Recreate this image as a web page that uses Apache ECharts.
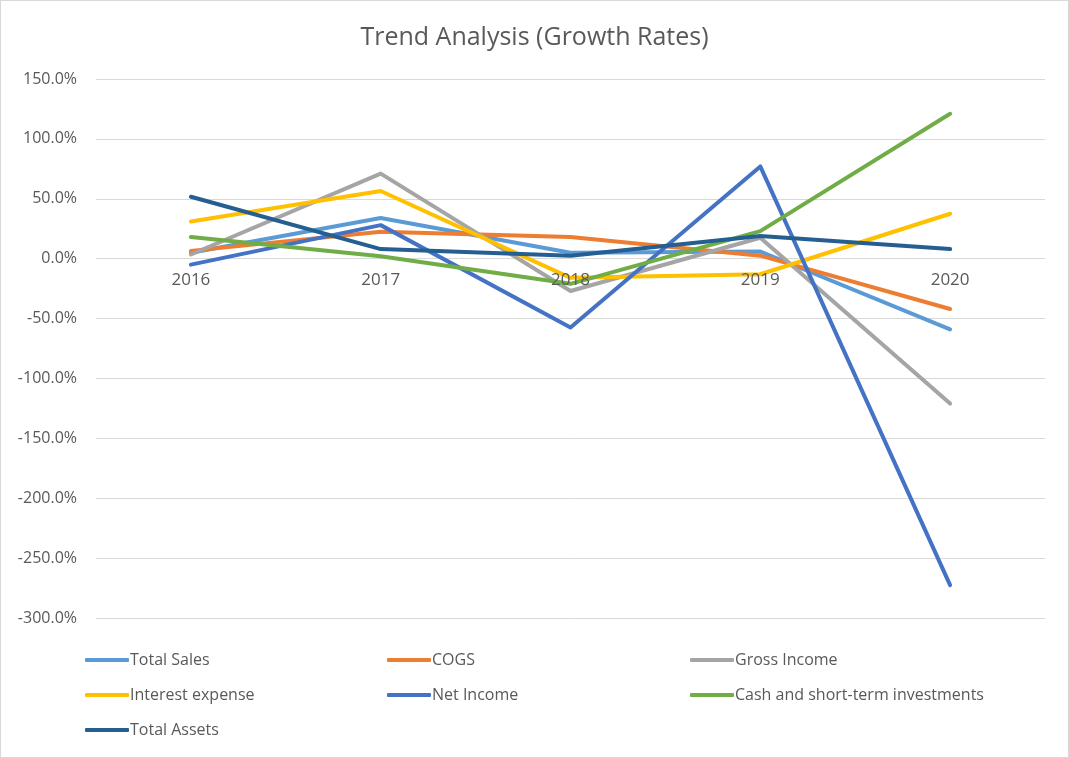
<!DOCTYPE html>
<html>
<head>
<meta charset="utf-8">
<script src="https://cdn.jsdelivr.net/npm/echarts@6/dist/echarts.min.js"></script>
<style>
html,body{margin:0;padding:0;background:#fff;}
#chart{width:1067px;height:756px;border:1px solid #D9D9D9;}
</style>
</head>
<body>
<div id="chart"></div>
<script>
const categories = ['2016', '2017', '2018', '2019', '2020'];
const totalSales = [5.0, 34.0, 5.0, 6.0, -59.0];
const cogs = [6.5, 22.5, 18.0, 2.5, -42.0];
const grossIncome = [3.5, 71.0, -27.0, 17.5, -121.0];
const interestExpense = [31.0, 56.5, -16.0, -13.0, 37.5];
const netIncome = [-5.0, 28.0, -57.5, 77.0, -272.5];
const cashInvestments = [18.0, 2.0, -21.0, 23.0, 121.0];
const totalAssets = [51.7, 8.0, 2.5, 19.0, 8.0];
const seriesNames = ['Total Sales', 'COGS', 'Gross Income', 'Interest expense', 'Net Income', 'Cash and short-term investments', 'Total Assets'];
const seriesData = [totalSales, cogs, grossIncome, interestExpense, netIncome, cashInvestments, totalAssets];
const colors = ['#5B9BD5', '#ED7D31', '#A5A5A5', '#FFC000', '#4472C4', '#70AD47', '#255E91'];
const yTicks = {min: -300, max: 150, interval: 50};

const font = '"Open Sans", "Liberation Sans", sans-serif';
const legendPos = [
  [84, 648], [386, 648], [689, 648],
  [84, 683], [386, 683], [689, 683],
  [84, 718]
];

const gridTop = 78, gridBottom = 139;
const plotH = 758 - gridTop - gridBottom;
// distance from plot bottom to the zero line, derived from the axis range
const zeroOffset = plotH * (0 - yTicks.min) / (yTicks.max - yTicks.min);

const chart = echarts.init(document.getElementById('chart'), null, {renderer: 'canvas'});
chart.setOption({
  animation: false,
  backgroundColor: '#ffffff',
  color: colors,
  title: {
    text: 'Trend Analysis (Growth Rates)',
    left: 'center',
    top: 19,
    textStyle: {fontFamily: font, fontSize: 25, fontWeight: 'normal', color: '#595959'}
  },
  legend: seriesNames.map((n, i) => ({
    data: [n],
    left: legendPos[i][0],
    top: legendPos[i][1],
    icon: 'roundRect',
    itemWidth: 44,
    itemHeight: 4,
    itemGap: 0,
    padding: 0,
    textStyle: {fontFamily: font, fontSize: 16, color: '#595959', lineHeight: 22, padding: [0, 0, 0, -4]}
  })),
  grid: {left: 95, right: 23, top: gridTop, bottom: gridBottom, containLabel: false},
  xAxis: {
    type: 'category',
    data: categories,
    boundaryGap: true,
    offset: -zeroOffset,
    z: 5,
    axisLine: {show: false, onZero: false},
    axisTick: {show: false},
    axisLabel: {fontFamily: font, fontSize: 17, color: '#595959', margin: 14}
  },
  yAxis: {
    type: 'value',
    min: yTicks.min,
    max: yTicks.max,
    interval: yTicks.interval,
    axisLine: {show: false},
    axisTick: {show: false},
    splitLine: {lineStyle: {color: '#D9D9D9', width: 1}},
    axisLabel: {
      fontFamily: font, fontSize: 16, color: '#595959', margin: 19,
      formatter: v => v.toFixed(1) + '%'
    }
  },
  series: seriesNames.map((n, i) => ({
    name: n,
    type: 'line',
    data: seriesData[i],
    symbol: 'none',
    lineStyle: {width: 4, color: colors[i], cap: 'round', join: 'round'},
    itemStyle: {color: colors[i]}
  }))
});
</script>
</body>
</html>
